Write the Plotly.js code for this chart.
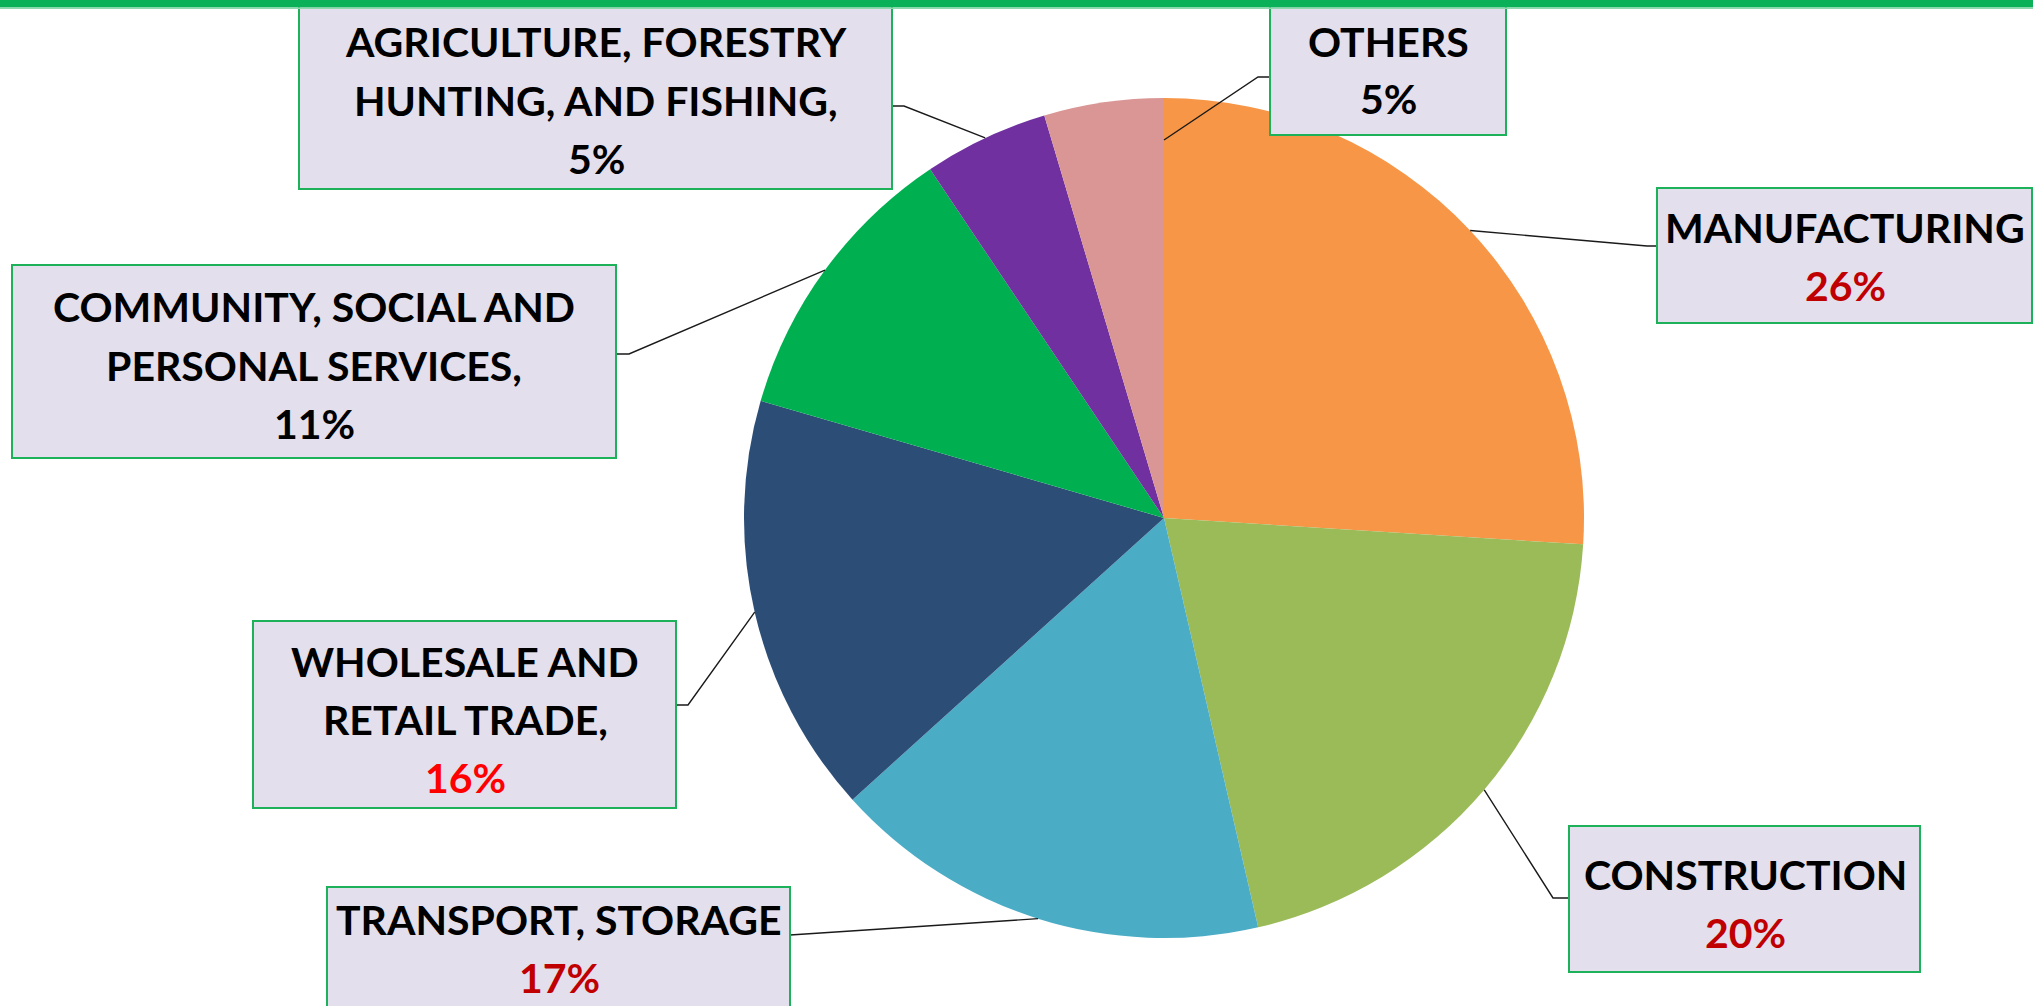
<!DOCTYPE html>
<html>
<head>
<meta charset="utf-8">
<script src="https://cdn.plot.ly/plotly-3.0.1.min.js"></script>
<style>html,body{margin:0;padding:0;background:#fff;}#chart{width:2033px;height:1006px;}</style>
</head>
<body>
<div id="chart"></div>
<script>
// ---- data ----
const categories = ['MANUFACTURING', 'CONSTRUCTION', 'TRANSPORT, STORAGE', 'WHOLESALE AND RETAIL TRADE', 'COMMUNITY, SOCIAL AND PERSONAL SERVICES', 'AGRICULTURE, FORESTRY HUNTING, AND FISHING', 'OTHERS'];
const shares = [26, 20.4, 16.9, 16.2, 11.1, 4.8, 4.6];
const labelLines = [
  ['MANUFACTURING'],
  ['CONSTRUCTION'],
  ['TRANSPORT, STORAGE'],
  ['WHOLESALE AND', 'RETAIL TRADE,'],
  ['COMMUNITY, SOCIAL AND', 'PERSONAL SERVICES,'],
  ['AGRICULTURE, FORESTRY', 'HUNTING, AND FISHING,'],
  ['OTHERS']
];

// ---- styling ----
const sliceColors = ['#F79646', '#9BBB59', '#4BACC6', '#2C4D75', '#00B050', '#7030A0', '#D99694'];
const pctColors = ['#C00000', '#C00000', '#C00000', '#FF0000', '#000000', '#000000', '#000000'];
const W = 2033, H = 1006;
const CX = 1164, CY = 518, R = 420;
const FONT = {family: 'Lato, "Open Sans", sans-serif', size: 41, weight: 'bold'};
const LINE_GAP = 58;
// label boxes [x0, y0, x1, y1] in pixels, text centre, leader elbow
const boxes = [
  [1657, 188, 2032, 323],
  [1569, 826, 1920, 972],
  [327, 887, 790, 1012],
  [253, 621, 676, 808],
  [12, 265, 616, 458],
  [299, 6, 892, 189],
  [1270, 6, 1506, 135]
];
const textCentres = [[1845, 256], [1745, 903], [559, 948], [465, 719], [314, 365], [596, 100], [1388, 70]];
const leaderStart = [[1657, 246], [1569, 898], [790, 935], [676, 705], [616, 354], [892, 106], [1270, 77]];
const leaderElbow = [[1647, 246], [1553, 898], null, [688, 705], [629, 354], [904, 106], [1258, 77]];
const anchorPos = [0.5, 0.5, 0.5, 0.5, 0.5, 0.5, 1.0];
const anchorR = [1, 1, 1, 1, 1, 1, 0.9];

const px = x => x / W;
const py = y => 1 - y / H;

const total = shares.reduce((a, b) => a + b, 0);
const shapes = [];
const annotations = [];
let cum = 0;
shares.forEach((v, i) => {
  const frac = (cum + v * anchorPos[i]) / total;
  cum += v;
  const th = 2 * Math.PI * frac;
  const ax = CX + R * anchorR[i] * Math.sin(th);
  const ay = CY - R * anchorR[i] * Math.cos(th);
  const pts = [leaderStart[i]];
  if (leaderElbow[i]) pts.push(leaderElbow[i]);
  pts.push([ax, ay]);
  const path = pts.map((p, k) => (k ? 'L' : 'M') + px(p[0]).toFixed(5) + ',' + py(p[1]).toFixed(5)).join(' ');
  shapes.push({type: 'path', xref: 'paper', yref: 'paper', path: path, line: {color: '#1a1a1a', width: 1.4}, layer: 'above'});
  const b = boxes[i];
  shapes.push({type: 'rect', xref: 'paper', yref: 'paper', x0: px(b[0]), x1: px(b[2]), y0: py(b[3]), y1: py(b[1]),
    fillcolor: '#E4DFEC', line: {color: '#1DB25A', width: 2}, layer: 'above'});
  const pct = Math.round(v / total * 100) + '%';
  const lines = labelLines[i].concat([pct]);
  const n = lines.length;
  lines.forEach((t, k) => {
    const yy = textCentres[i][1] + (k - (n - 1) / 2) * LINE_GAP;
    annotations.push({xref: 'paper', yref: 'paper', x: px(textCentres[i][0]), y: py(yy),
      xanchor: 'center', yanchor: 'middle', showarrow: false, align: 'center', text: t,
      font: Object.assign({}, FONT, {color: k === n - 1 ? pctColors[i] : '#000000'})});
  });
});
// top green band
shapes.push({type: 'rect', xref: 'paper', yref: 'paper', x0: 0, x1: 1, y0: py(7.5), y1: py(0), fillcolor: '#0BB158', line: {width: 0}, layer: 'above'});
shapes.push({type: 'rect', xref: 'paper', yref: 'paper', x0: 0, x1: 1, y0: py(9), y1: py(7.5), fillcolor: '#8ED9AE', line: {width: 0}, layer: 'above'});

const trace = {
  type: 'pie',
  labels: categories,
  values: shares,
  sort: false,
  direction: 'clockwise',
  rotation: 0,
  marker: {colors: sliceColors, line: {width: 0}},
  textinfo: 'none',
  hoverinfo: 'skip',
  showlegend: false,
  domain: {x: [px(CX - R), px(CX + R)], y: [1 - (CY + R) / H, 1 - (CY - R) / H]}
};

Plotly.newPlot('chart', [trace], {
  width: W, height: H,
  margin: {l: 0, r: 0, t: 0, b: 0},
  paper_bgcolor: '#ffffff',
  plot_bgcolor: '#ffffff',
  showlegend: false,
  shapes: shapes,
  annotations: annotations
}, {displayModeBar: false, staticPlot: true});
</script>
</body>
</html>
